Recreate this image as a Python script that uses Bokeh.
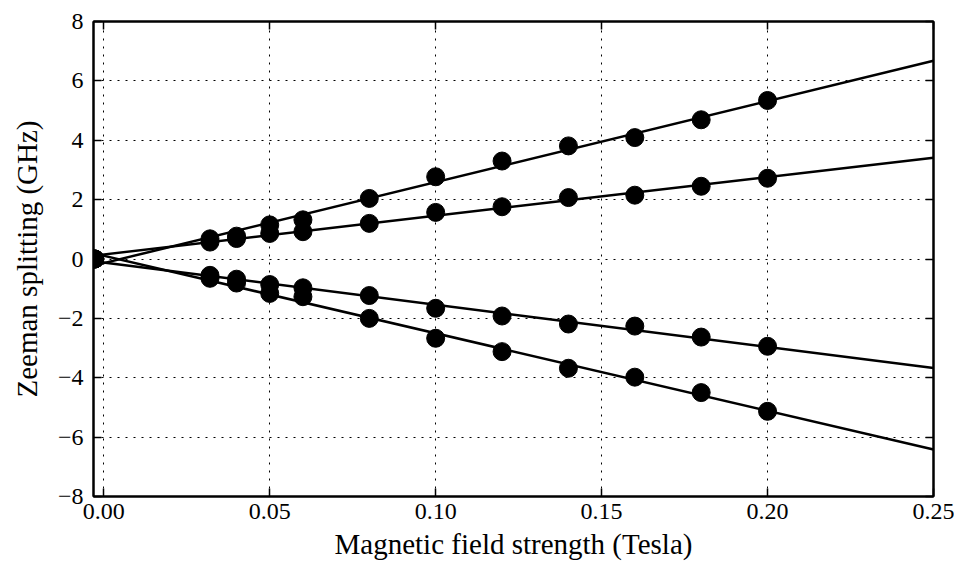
import numpy as np
from bokeh.plotting import figure
from bokeh.models import Range1d, FixedTicker, LinearAxis, CustomJSTickFormatter
from bokeh.embed import file_html
from bokeh.resources import INLINE

# ---- data ----
field_T = [-0.0027, 0.032, 0.04, 0.05, 0.06, 0.08, 0.10, 0.12, 0.14, 0.16, 0.18, 0.20]
split_up_steep = [0.0, 0.68, 0.77, 1.15, 1.32, 2.04, 2.77, 3.30, 3.81, 4.09, 4.69, 5.34]
split_up_shallow = [0.0, 0.57, 0.69, 0.86, 0.92, 1.20, 1.57, 1.76, 2.07, 2.15, 2.45, 2.72]
split_dn_shallow = [0.0, -0.55, -0.68, -0.86, -0.97, -1.23, -1.66, -1.92, -2.19, -2.26, -2.63, -2.94]
split_dn_steep = [0.0, -0.65, -0.81, -1.16, -1.27, -2.00, -2.67, -3.12, -3.68, -3.98, -4.50, -5.13]
series = [split_up_steep, split_up_shallow, split_dn_shallow, split_dn_steep]

x_ticks = [0.0, 0.05, 0.10, 0.15, 0.20, 0.25]
x_tick_labels = ["0.00", "0.05", "0.10", "0.15", "0.20", "0.25"]
y_ticks = [-8, -6, -4, -2, 0, 2, 4, 6, 8]
y_tick_labels = ["\u22128", "\u22126", "\u22124", "\u22122", "0", "2", "4", "6", "8"]

X_MIN, X_MAX = -0.0031, 0.25
Y_MIN, Y_MAX = -8, 8

FONT = "Liberation Serif"

p = figure(width=954, height=567,
           x_range=Range1d(X_MIN, X_MAX), y_range=Range1d(Y_MIN, Y_MAX),
           output_backend="svg", toolbar_location=None,
           min_border_left=93, min_border_right=21,
           min_border_top=21, min_border_bottom=71,
           x_axis_label="Magnetic field strength (Tesla)",
           y_axis_label="Zeeman splitting (GHz)")

p.background_fill_color = "white"
p.border_fill_color = "white"
p.outline_line_color = "black"
p.outline_line_width = 2

# fitted lines and data points
xs_line = np.array([X_MIN, X_MAX])
for ys in series:
    k, b = np.polyfit(np.array(field_T), np.array(ys), 1)
    p.line(xs_line, k * xs_line + b, line_color="black", line_width=2.5)
for ys in series:
    p.scatter(field_T, ys, marker="circle", size=18,
              fill_color="black", line_color="black")

# axes styling
xt = FixedTicker(ticks=x_ticks)
yt = FixedTicker(ticks=y_ticks)

fmt_code = """
let best = 0, bd = Infinity;
for (let i = 0; i < vals.length; i++) {
  const d = Math.abs(vals[i] - tick);
  if (d < bd) { bd = d; best = i; }
}
return labs[best];
"""
x_fmt = CustomJSTickFormatter(args=dict(vals=x_ticks, labs=x_tick_labels), code=fmt_code)
y_fmt = CustomJSTickFormatter(args=dict(vals=y_ticks, labs=y_tick_labels), code=fmt_code)

p.xaxis.ticker = xt
p.xaxis.formatter = x_fmt
p.yaxis.ticker = yt
p.yaxis.formatter = y_fmt

for axs in (p.xaxis, p.yaxis):
    axs.axis_line_width = 2
    axs.axis_line_color = "black"
    axs.major_tick_in = 8
    axs.major_tick_out = 0
    axs.major_tick_line_width = 1.5
    axs.major_tick_line_color = "black"
    axs.minor_tick_line_color = None
    axs.major_label_text_font = FONT
    axs.major_label_text_font_size = "24px"
    axs.major_label_text_color = "black"
    axs.axis_label_text_font = FONT
    axs.axis_label_text_font_size = "29px"
    axs.axis_label_text_font_style = "normal"
    axs.axis_label_text_color = "black"

p.xaxis.major_label_standoff = 7
p.xaxis.axis_label_standoff = 6
p.yaxis.major_label_standoff = 10
p.yaxis.axis_label_standoff = 12

# ticks on top and right (no labels)
top = LinearAxis(ticker=xt, major_tick_in=8, major_tick_out=0,
                 major_tick_line_width=1.5, minor_tick_line_color=None,
                 axis_line_width=2, major_label_text_color=None,
                 major_label_standoff=0, major_label_text_font_size="1px")
right = LinearAxis(ticker=yt, major_tick_in=8, major_tick_out=0,
                   major_tick_line_width=1.5, minor_tick_line_color=None,
                   axis_line_width=2, major_label_text_color=None,
                   major_label_standoff=0, major_label_text_font_size="1px")
p.add_layout(top, "above")
p.add_layout(right, "right")

# grid
p.xgrid.ticker = xt
p.ygrid.ticker = yt
for g in (p.xgrid, p.ygrid):
    g.grid_line_color = "black"
    g.grid_line_width = 1
    g.grid_line_dash = "2 6"
    g.grid_line_alpha = 1.0

open("out.html", "w").write(file_html(p, INLINE))
